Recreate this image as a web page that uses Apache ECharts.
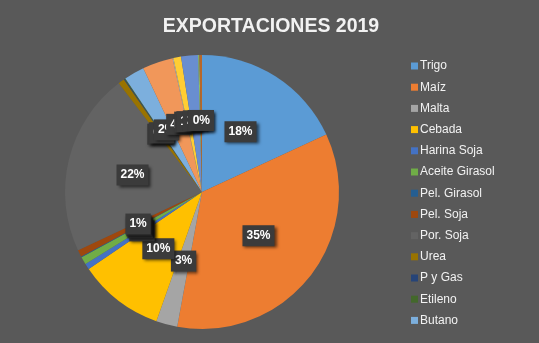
<!DOCTYPE html>
<html>
<head>
<meta charset="utf-8">
<script src="https://cdn.jsdelivr.net/npm/echarts@6/dist/echarts.min.js"></script>
<style>
html,body{margin:0;padding:0;background:#595959;}
#c{width:539px;height:343px;}
</style>
</head>
<body>
<div id="c"></div>
<script>
const categories = ['Trigo','Maíz','Malta','Cebada','Harina Soja','Aceite Girasol','Pel. Girasol','Pel. Soja','Por. Soja','Urea','P y Gas','Etileno','Butano','Otro 14','Otro 15','Otro 16','Otro 17','Otro 18','Otro 19'];
const values = [18.1, 34.8, 2.5, 10.1, 0.7, 0.9, 0.1, 0.8, 21.6, 0.75, 0.1, 0.1, 2.4, 3.6, 0.1, 0.9, 2.0, 0.15, 0.3];
const legendNames = categories.slice(0, 13);
const colors = ['#5B9BD5','#ED7D31','#A5A5A5','#FFC000','#4472C4','#70AD47','#255E91','#9E480E','#636363','#997300','#264478','#43682B','#7CAFDD','#F1975A','#B7B7B7','#FFCD33','#698ED0','#8CC168','#B8672A'];

const chart = echarts.init(document.getElementById('c'), null, {renderer:'canvas'});
chart.setOption({
  backgroundColor: '#595959',
  animation: false,
  color: colors,
  title: {
    text: 'EXPORTACIONES 2019',
    left: 266, top: 12, textAlign: 'center',
    textStyle: {color:'#f2f2f2', fontSize:19.5, fontWeight:'bold', fontFamily:'Liberation Sans'}
  },
  legend: {
    data: legendNames,
    orient: 'vertical',
    left: 406, top: 54,
    itemWidth: 7, itemHeight: 7,
    itemGap: 7.2,
    icon: 'rect',
    textStyle: {color:'#f2f2f2', fontSize:12, fontFamily:'Liberation Sans', padding:[0,0,0,-3], lineHeight:14}
  },
  series: [{
    type: 'pie',
    center: [202, 192],
    radius: 137,
    startAngle: 90,
    clockwise: true,
    avoidLabelOverlap: false,
    labelLayout: {hideOverlap: false},
    data: categories.map((n, i) => ({name: n, value: values[i]})),
    label: {
      show: true,
      position: 'inside',
      formatter: p => Math.round(p.percent) + '%',
      color: '#ffffff',
      fontSize: 12,
      fontWeight: 'bold',
      fontFamily: 'Liberation Sans',
      backgroundColor: '#3b3b3b',
      padding: [5, 4, 4, 4],
      shadowColor: 'rgba(0,0,0,0.6)',
      shadowBlur: 3,
      shadowOffsetX: 2,
      shadowOffsetY: 2
    },
    labelLine: {show: false},
    itemStyle: {borderWidth: 0},
    emphasis: {disabled: true}
  }]
});
</script>
</body>
</html>
